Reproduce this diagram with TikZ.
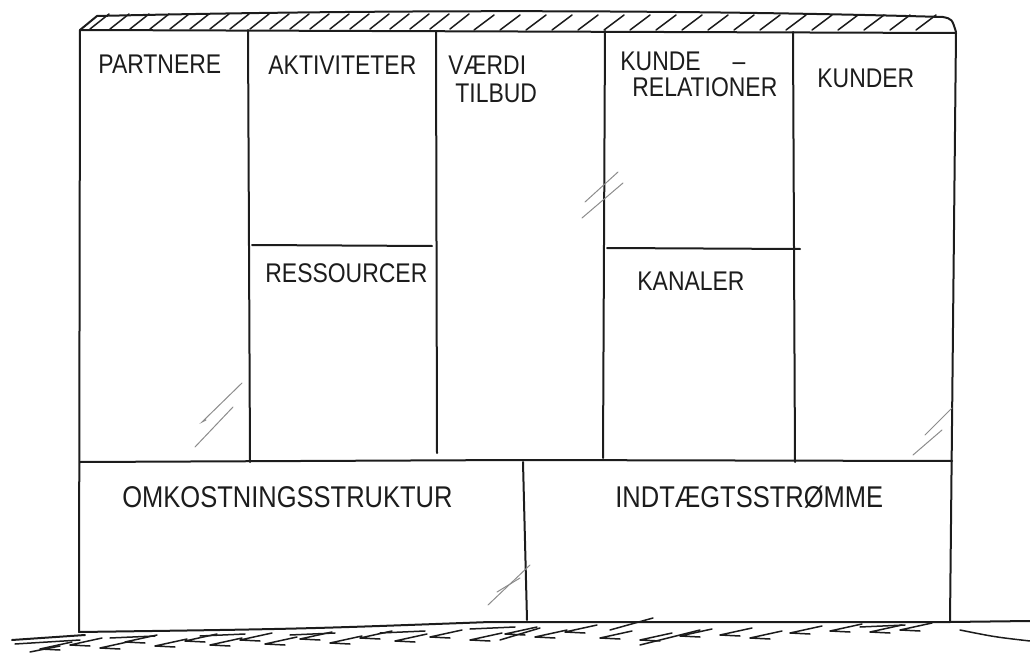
\documentclass[tikz,border=0pt]{standalone}
\usepackage{fontspec}
\setmainfont{Liberation Sans}[FakeStretch=0.85]
\usepackage{xcolor}
\definecolor{sketchInk}{RGB}{28, 28, 28}
\definecolor{sketchGlare}{RGB}{140, 140, 140}

\begin{document}
\begin{tikzpicture}[x=0.5pt, y=-0.5pt,
    ink/.style={sketchInk, line width=1pt, line cap=round, line join=round},
    hatch/.style={sketchInk, line width=0.75pt, line cap=round, line join=round},
    glare/.style={sketchGlare, line width=0.5pt, line cap=round},
    celltext/.style={sketchInk, inner sep=0pt, anchor=base west, font=\fontsize{13.5}{14}\selectfont},
    bigtext/.style={celltext, font=\fontsize{15}{16}\selectfont}]
    \useasboundingbox (0,0) rectangle (1030,653);

    \draw[ink] (80,30) -- (97,16) .. controls (400,9) and (700,10) .. (943,17) .. controls (952,19) .. (956,32);
    \draw[ink] (80,30) -- (956,33);
    \foreach \hx in {90,110,...,450} \draw[hatch] (\hx,29) -- (\hx+19,14);
    \foreach \hx in {474,500,...,930} \draw[hatch] (\hx,30) -- (\hx+20,15);

    \draw[ink] (80,30) -- (79,632);
    \draw[ink] (956,33) -- (950,622);
    \draw[ink] (248,30) -- (250,462);
    \draw[ink] (436,31) -- (437,453);
    \draw[ink] (605,31) -- (603,458);
    \draw[ink] (793,32) -- (795,462);
    \draw[ink] (252,245) -- (432,246);
    \draw[ink] (607,248) -- (800,249);
    \draw[ink] (80,462) -- (520,460) -- (952,461);
    \draw[ink] (523,462) -- (527,620);
    \draw[ink] (79,632) .. controls (300,629) .. (490,622) -- (950,622) -- (1030,621);

    \draw[hatch] (960,630) .. controls (995,637) .. (1030,641);
    \draw[ink] (12,640) -- (85,635);
    \draw[hatch] (15,644) -- (80,640);
    \draw[hatch] (30,652) -- (60,646);
    \foreach \gx/\gy in {40/649, 70/645, 100/648, 125/642, 155/646, 185/641, 210/645, 240/640,
                         265/644, 300/639, 330/643, 360/638, 395/641, 430/637, 470/640, 505/634,
                         535/637, 565/632, 600/638, 640/640, 680/636, 720/635, 750/638, 790/633,
                         830/631, 870/632, 900/630}
        \draw[hatch] (\gx+32,\gy-7) -- (\gx,\gy) -- (\gx+20,\gy+1);
    \foreach \gx/\gy in {110/638, 200/636, 290/635, 380/633, 470/629, 860/627}
        \draw[hatch] (\gx,\gy) -- (\gx+45,\gy-2);
    \draw[hatch] (653,618) -- (610,630);
    \draw[hatch] (700,630) -- (640,645);
    \draw[hatch] (540,628) -- (500,640);

    \draw[glare] (242,383) -- (202,422) -- (206,420);
    \draw[glare] (233,407) -- (195,447);
    \draw[glare] (618,172) -- (585,202);
    \draw[glare] (623,183) -- (582,218);
    \draw[glare] (530,565) -- (488,605);
    \draw[glare] (520,578) -- (497,592);
    \draw[glare] (952,408) -- (925,435);
    \draw[glare] (942,430) -- (913,455);

    \node[celltext] (partnere) at (98,73) {PARTNERE};
    \node[celltext] (aktiviteter) at (268,75) {AKTIVITETER};
    \node[celltext] (vaerdi) at (448,75) {VÆRDI};
    \node[celltext] (tilbud) at (455,102) {TILBUD};
    \node[celltext] (kunde) at (620,70) {KUNDE\hspace{16pt}–};
    \node[celltext] (relationer) at (632,97) {RELATIONER};
    \node[celltext] (kunder) at (817,87) {KUNDER};
    \node[celltext] (ressourcer) at (265,282) {RESSOURCER};
    \node[celltext] (kanaler) at (637,290) {KANALER};
    \node[bigtext] (omkostninger) at (122,507) {OMKOSTNINGSSTRUKTUR};
    \node[bigtext] (indtaegter) at (615,507) {INDTÆGTSSTRØMME};
\end{tikzpicture}
\end{document}
